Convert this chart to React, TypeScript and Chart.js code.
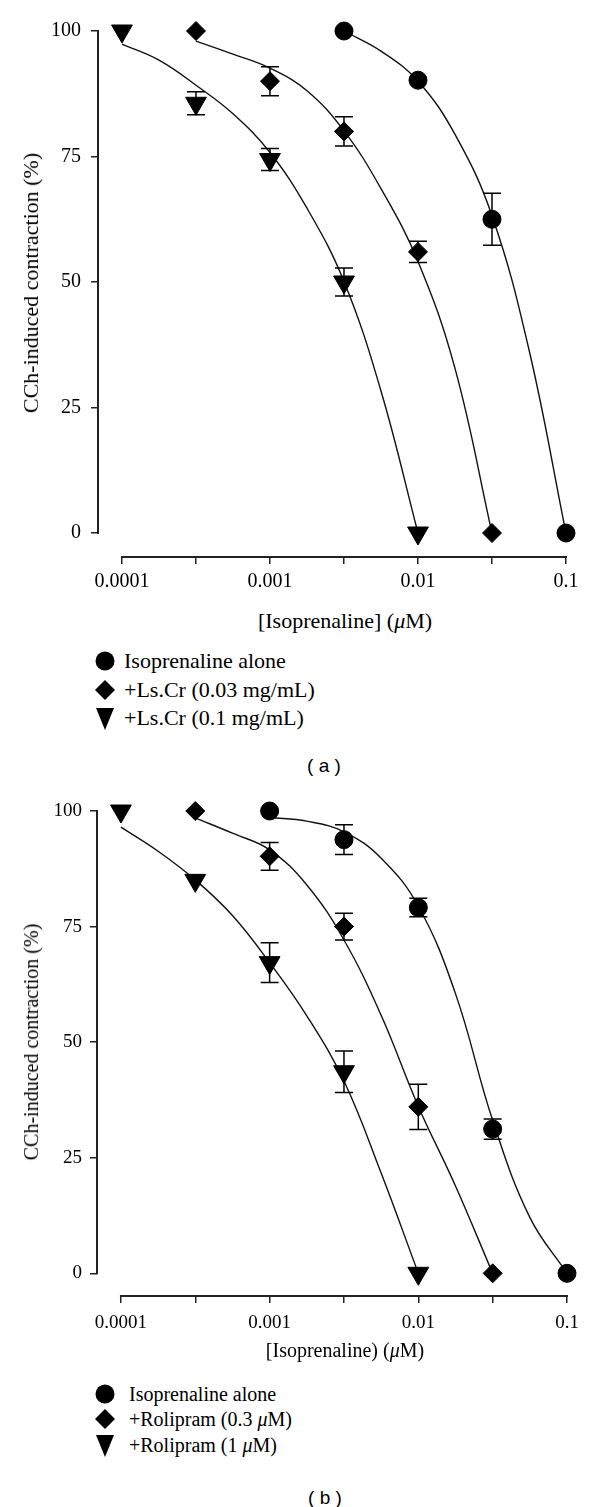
import React, { useEffect, useRef } from "react";
import { Chart, registerables } from "chart.js";

Chart.register(...registerables);

// ---------- shared axes ----------
const logDoseTicks = [-4, -3.5, -3, -2.5, -2, -1.5, -1];
const doseTickLabels = ["0.0001", "", "0.001", "", "0.01", "", "0.1"];
const responseTicks = [0, 25, 50, 75, 100];
const responseTickLabels = ["0", "25", "50", "75", "100"];
const yAxisTitle = "CCh-induced contraction (%)";

// ---------- panel (a) ----------
const aAloneDose = [-2.5, -2, -1.5, -1];
const aAloneResp = [100, 90.2, 62.5, 0];
const aAloneSem = [0, 0, 5.2, 0];
const aAloneFitDose = [-2.5, -2.25, -2, -1.75, -1.5, -1.25, -1];
const aAloneFitResp = [100, 96, 90, 79.4, 63.2, 36.5, 0];

const aLsLowDose = [-3.5, -3, -2.5, -2, -1.5];
const aLsLowResp = [100, 90, 80, 56, 0];
const aLsLowSem = [0, 2.9, 2.9, 2.1, 0];
const aLsLowFitDose = [-3.5, -3.25, -3, -2.75, -2.5, -2.25, -2, -1.75, -1.5];
const aLsLowFitResp = [98, 95.4, 92.6, 88.1, 80.1, 68.6, 54.1, 32.8, 0];

const aLsHighDose = [-4, -3.5, -3, -2.5, -2];
const aLsHighResp = [100, 85.6, 74.4, 50, 0];
const aLsHighSem = [0, 2.3, 2.2, 2.8, 0];
const aLsHighFitDose = [-4, -3.75, -3.5, -3.25, -3, -2.75, -2.5, -2.25, -2];
const aLsHighFitResp = [97.4, 94.2, 89.2, 83.5, 75.8, 64.7, 50.1, 28.3, 0];

const aLegendLabels = ["Isoprenaline alone", "+Ls.Cr (0.03 mg/mL)", "+Ls.Cr (0.1 mg/mL)"];
const aXTitle = "[Isoprenaline] (μM)";
const aCaption = "( a )";

// ---------- panel (b) ----------
const bAloneDose = [-3, -2.5, -2, -1.5, -1];
const bAloneResp = [100, 93.8, 79.1, 31.2, 0];
const bAloneSem = [0, 3.2, 2.0, 2.2, 0];
const bAloneFitDose = [-3, -2.75, -2.5, -2.25, -2, -1.75, -1.5, -1.25, -1];
const bAloneFitResp = [98.6, 97.8, 95.5, 89.8, 79.4, 60.5, 33.1, 12.1, 0];

const bRoliLowDose = [-3.5, -3, -2.5, -2, -1.5];
const bRoliLowResp = [100, 90.2, 75, 36, 0];
const bRoliLowSem = [0, 3.0, 2.9, 4.9, 0];
const bRoliLowFitDose = [-3.5, -3.25, -3, -2.75, -2.5, -2.25, -2, -1.75, -1.5];
const bRoliLowFitResp = [98.5, 95.2, 91.6, 84, 72.1, 55.8, 36.1, 18.9, 0];

const bRoliHighDose = [-4, -3.5, -3, -2.5, -2];
const bRoliHighResp = [100, 85, 67.2, 43.6, 0];
const bRoliHighSem = [0, 0, 4.3, 4.5, 0];
const bRoliHighFitDose = [-4, -3.75, -3.5, -3.25, -3, -2.75, -2.5, -2.25, -2];
const bRoliHighFitResp = [96.5, 91.3, 85.1, 77.4, 67.2, 55.7, 41.6, 21.7, 0];

const bLegendLabels = ["Isoprenaline alone", "+Rolipram (0.3 μM)", "+Rolipram (1 μM)"];
const bXTitle = "[Isoprenaline) (μM)";
const bCaption = "( b )";

// ---------- styling ----------
const SERIF = "'Liberation Serif', 'Times New Roman', serif";
const SANS = "'Liberation Sans', Arial, sans-serif";
const INK = "#000";
const AXIS = "#222";

type MarkerKind = "circle" | "diamond" | "triangle";
const markerKinds: MarkerKind[] = ["circle", "diamond", "triangle"];

const markerStyle: Record<MarkerKind, { pointStyle: string; radius: number; rotation: number }> = {
  circle: { pointStyle: "circle", radius: 9, rotation: 0 },
  diamond: { pointStyle: "rectRot", radius: 9.5, rotation: 0 },
  triangle: { pointStyle: "triangle", radius: 12, rotation: 180 },
};

type Series = {
  dose: number[];
  resp: number[];
  sem: number[];
  fitDose: number[];
  fitResp: number[];
  marker: MarkerKind;
};

const seriesA: Series[] = [
  { dose: aAloneDose, resp: aAloneResp, sem: aAloneSem, fitDose: aAloneFitDose, fitResp: aAloneFitResp, marker: "circle" },
  { dose: aLsLowDose, resp: aLsLowResp, sem: aLsLowSem, fitDose: aLsLowFitDose, fitResp: aLsLowFitResp, marker: "diamond" },
  { dose: aLsHighDose, resp: aLsHighResp, sem: aLsHighSem, fitDose: aLsHighFitDose, fitResp: aLsHighFitResp, marker: "triangle" },
];
const seriesB: Series[] = [
  { dose: bAloneDose, resp: bAloneResp, sem: bAloneSem, fitDose: bAloneFitDose, fitResp: bAloneFitResp, marker: "circle" },
  { dose: bRoliLowDose, resp: bRoliLowResp, sem: bRoliLowSem, fitDose: bRoliLowFitDose, fitResp: bRoliLowFitResp, marker: "diamond" },
  { dose: bRoliHighDose, resp: bRoliHighResp, sem: bRoliHighSem, fitDose: bRoliHighFitDose, fitResp: bRoliHighFitResp, marker: "triangle" },
];

type Geo = {
  top: number;
  height: number;
  padTop: number;
  padRight: number;
  yAxisWidth: number;
  xAxisHeight: number;
  xMin: number;
  yMin: number;
  tickFont: number;
  xTickPad: number;
  yTickPad: number;
};

const geoA: Geo = { top: 0, height: 600, padTop: 31, padRight: 34, yAxisWidth: 98, xAxisHeight: 43, xMin: -4.162, yMin: -4.78, tickFont: 20, xTickPad: 6, yTickPad: 10 };
const geoB: Geo = { top: 780, height: 560, padTop: 31, padRight: 33, yAxisWidth: 97, xAxisHeight: 44, xMin: -4.161, yMin: -4.91, tickFont: 19, xTickPad: 9, yTickPad: 8 };

// ---------- plugins ----------
const errorBarPlugin = {
  id: "errorBars",
  afterDatasetsDraw(chart: any) {
    const { ctx } = chart;
    const yScale = chart.scales.y;
    ctx.save();
    ctx.strokeStyle = INK;
    ctx.lineWidth = 1.5;
    chart.data.datasets.forEach((ds: any, i: number) => {
      if (!ds.errors) return;
      const meta = chart.getDatasetMeta(i);
      meta.data.forEach((el: any, j: number) => {
        const e = ds.errors[j];
        if (!e) return;
        const v = ds.data[j].y;
        const x = el.x;
        const yHi = yScale.getPixelForValue(v + e);
        const yLo = yScale.getPixelForValue(v - e);
        const cap = 9;
        ctx.beginPath();
        ctx.moveTo(x, yHi);
        ctx.lineTo(x, yLo);
        ctx.moveTo(x - cap, yHi);
        ctx.lineTo(x + cap, yHi);
        ctx.moveTo(x - cap, yLo);
        ctx.lineTo(x + cap, yLo);
        ctx.stroke();
      });
    });
    ctx.restore();
  },
};

const axisLinePlugin = {
  id: "axisLines",
  afterDraw(chart: any) {
    const { ctx, chartArea } = chart;
    const xs = chart.scales.x;
    const ys = chart.scales.y;
    ctx.save();
    ctx.strokeStyle = AXIS;
    ctx.lineWidth = 2;
    ctx.beginPath();
    ctx.moveTo(chartArea.left, ys.getPixelForValue(responseTicks[0]) + 1);
    ctx.lineTo(chartArea.left, ys.getPixelForValue(responseTicks[responseTicks.length - 1]) - 1);
    ctx.moveTo(xs.getPixelForValue(logDoseTicks[0]) - 1, chartArea.bottom);
    ctx.lineTo(xs.getPixelForValue(logDoseTicks[logDoseTicks.length - 1]) + 1, chartArea.bottom);
    ctx.stroke();
    ctx.restore();
  },
};

function PanelChart({ series, geo }: { series: Series[]; geo: Geo }) {
  const ref = useRef<HTMLCanvasElement | null>(null);
  useEffect(() => {
    if (!ref.current) return;
    const datasets: any[] = [];
    series.forEach((s) => {
      const m = markerStyle[s.marker];
      datasets.push({
        data: s.dose.map((x, i) => ({ x, y: s.resp[i] })),
        showLine: false,
        pointStyle: m.pointStyle,
        pointRadius: m.radius,
        pointHoverRadius: m.radius,
        pointRotation: m.rotation,
        backgroundColor: INK,
        borderColor: INK,
        borderWidth: 1,
        errors: s.sem,
        clip: false,
      });
    });
    series.forEach((s) => {
      datasets.push({
        data: s.fitDose.map((x, i) => ({ x, y: s.fitResp[i] })),
        showLine: true,
        pointRadius: 0,
        pointHoverRadius: 0,
        borderColor: "#111",
        borderWidth: 1.4,
        tension: 0.4,
        fill: false,
        clip: false,
      });
    });

    const tickFont = { family: SERIF, size: geo.tickFont };
    const chart = new Chart(ref.current, {
      type: "scatter",
      data: { datasets },
      options: {
        animation: false,
        responsive: false,
        maintainAspectRatio: false,
        events: [],
        layout: { padding: { top: geo.padTop, left: 0, right: geo.padRight, bottom: 0 } },
        plugins: { legend: { display: false }, tooltip: { enabled: false } },
        scales: {
          x: {
            type: "linear",
            min: geo.xMin,
            max: logDoseTicks[logDoseTicks.length - 1],
            afterBuildTicks: (s: any) => {
              s.ticks = logDoseTicks.map((v) => ({ value: v }));
            },
            afterFit: (s: any) => {
              s.height = geo.xAxisHeight;
            },
            ticks: {
              autoSkip: false,
              maxRotation: 0,
              minRotation: 0,
              padding: geo.xTickPad,
              color: INK,
              font: tickFont,
              callback: (v: any) => doseTickLabels[logDoseTicks.indexOf(Number(v))] ?? "",
            },
            grid: { drawOnChartArea: false, drawTicks: true, tickLength: 7, color: AXIS, lineWidth: 1.5 },
            border: { display: false },
          },
          y: {
            type: "linear",
            min: geo.yMin,
            max: responseTicks[responseTicks.length - 1],
            afterBuildTicks: (s: any) => {
              s.ticks = responseTicks.map((v) => ({ value: v }));
            },
            afterFit: (s: any) => {
              s.width = geo.yAxisWidth;
            },
            ticks: {
              autoSkip: false,
              padding: geo.yTickPad,
              color: INK,
              font: tickFont,
              callback: (v: any) => responseTickLabels[responseTicks.indexOf(Number(v))] ?? "",
            },
            grid: { drawOnChartArea: false, drawTicks: true, tickLength: 7, color: AXIS, lineWidth: 1.5 },
            border: { display: false },
          },
        },
      } as any,
      plugins: [errorBarPlugin, axisLinePlugin],
    });
    return () => chart.destroy();
  }, [series, geo]);
  return (
    <canvas
      ref={ref}
      width={600}
      height={geo.height}
      style={{ position: "absolute", left: 0, top: geo.top, width: 600, height: geo.height }}
    />
  );
}

function withMu(text: string) {
  const parts = text.split("μ");
  const out: any[] = [];
  parts.forEach((p, i) => {
    if (i > 0) out.push(<i key={"mu" + i}>μ</i>);
    out.push(<span key={"t" + i}>{p}</span>);
  });
  return out;
}

function MarkerIcon({ kind, cx, cy }: { kind: MarkerKind; cx: number; cy: number }) {
  const w = 24;
  const h = 26;
  let shape: any = null;
  if (kind === "circle") shape = <circle cx={12} cy={13} r={9.5} fill={INK} />;
  if (kind === "diamond") shape = <polygon points="12,3 22,13 12,23 2,13" fill={INK} />;
  if (kind === "triangle") shape = <polygon points="3,3 21,3 12,25" fill={INK} />;
  return (
    <svg width={w} height={h} style={{ position: "absolute", left: cx - 12, top: cy - 13 }}>
      {shape}
    </svg>
  );
}

function TextAt({ x, y, size, family, children, rotate }: any) {
  return (
    <div
      style={{
        position: "absolute",
        left: x,
        top: y,
        transform: `translate(-50%, -50%)${rotate ? " rotate(-90deg)" : ""}`,
        whiteSpace: "nowrap",
        lineHeight: 1,
        fontSize: size,
        fontFamily: family,
        color: INK,
      }}
    >
      {children}
    </div>
  );
}

type TextGeo = {
  yTitle: [number, number];
  xTitle: [number, number];
  legendRows: number[];
  markerX: number;
  textX: number;
  caption: [number, number];
  size: number;
};

const textA: TextGeo = { yTitle: [31, 283], xTitle: [345, 621], legendRows: [661, 690, 718], markerX: 105, textX: 124, caption: [324, 765], size: 22 };
const textB: TextGeo = { yTitle: [31, 1042], xTitle: [345, 1350], legendRows: [1394, 1419, 1445], markerX: 105, textX: 129, caption: [325, 1497], size: 20 };

function PanelText({ t, xTitle, legend, caption }: { t: TextGeo; xTitle: string; legend: string[]; caption: string }) {
  return (
    <>
      <TextAt x={t.yTitle[0]} y={t.yTitle[1]} size={t.size} family={SERIF} rotate>
        {yAxisTitle}
      </TextAt>
      <TextAt x={t.xTitle[0]} y={t.xTitle[1]} size={t.size} family={SERIF}>
        {withMu(xTitle)}
      </TextAt>
      {legend.map((label, i) => (
        <React.Fragment key={label}>
          <MarkerIcon kind={markerKinds[i]} cx={t.markerX} cy={t.legendRows[i]} />
          <div
            style={{
              position: "absolute",
              left: t.textX,
              top: t.legendRows[i],
              transform: "translateY(-50%)",
              whiteSpace: "nowrap",
              lineHeight: 1,
              fontSize: t.size,
              fontFamily: SERIF,
              color: INK,
            }}
          >
            {withMu(label)}
          </div>
        </React.Fragment>
      ))}
      <TextAt x={t.caption[0]} y={t.caption[1]} size={19} family={SANS}>
        {caption}
      </TextAt>
    </>
  );
}

export default function App() {
  return (
    <div style={{ position: "absolute", left: 0, top: 0, width: 600, height: 1507, background: "#fff", overflow: "hidden" }}>
      <PanelChart series={seriesA} geo={geoA} />
      <PanelText t={textA} xTitle={aXTitle} legend={aLegendLabels} caption={aCaption} />
      <PanelChart series={seriesB} geo={geoB} />
      <PanelText t={textB} xTitle={bXTitle} legend={bLegendLabels} caption={bCaption} />
    </div>
  );
}
